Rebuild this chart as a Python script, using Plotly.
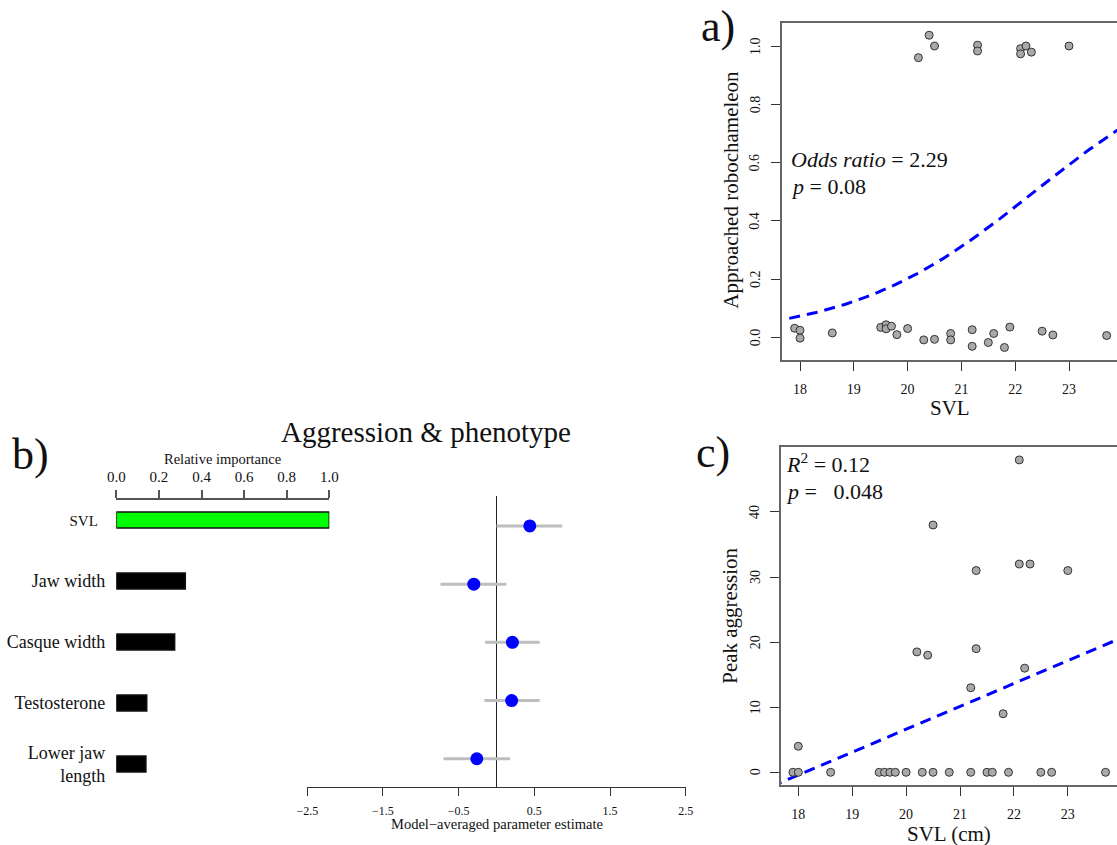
import numpy as np
import plotly.graph_objects as go

W, H = 1117, 845
FONT = "Liberation Serif"

# ---------------- Data ----------------
# Panel b: relative importance and model-averaged estimates
predictors = ["SVL", "Jaw width", "Casque width", "Testosterone", "Lower jaw length"]
predictor_labels = ['<span style="font-size:15px">SVL\u00a0\u00a0</span>', "Jaw width", "Casque width",
                    "Testosterone", "Lower jaw<br>length"]
rel_importance = [1.0, 0.324, 0.274, 0.143, 0.139]
bar_colors = ["#00FF00", "#000000", "#000000", "#000000", "#000000"]
estimate = [0.44, -0.30, 0.21, 0.20, -0.26]
ci_low = [0.0, -0.74, -0.15, -0.16, -0.70]
ci_high = [0.87, 0.13, 0.57, 0.57, 0.18]
positions = [5, 4, 3, 2, 1]
est_ticks = [-2.5, -1.5, -0.5, 0.5, 1.5, 2.5]
imp_ticks = [0.0, 0.2, 0.4, 0.6, 0.8, 1.0]

# Panel a: approached robochameleon (jittered 0/1) vs SVL
svl_a = [20.2, 20.4, 20.5, 21.3, 21.3, 22.1, 22.1, 22.2, 22.3, 23.0,
         17.9, 18.0, 18.0, 18.6, 19.5, 19.6, 19.6, 19.7, 19.8, 20.0, 20.3, 20.5,
         20.8, 20.8, 21.2, 21.2, 21.5, 21.6, 21.8, 21.9, 22.5, 22.7, 23.7]
approached = [0.960, 1.037, 1.000, 1.003, 0.983, 0.991, 0.973, 1.000, 0.979, 1.000,
              0.031, 0.024, -0.003, 0.015, 0.034, 0.043, 0.029, 0.038, 0.009, 0.030, -0.009, -0.007,
              0.013, -0.009, 0.026, -0.031, -0.018, 0.013, -0.035, 0.035, 0.021, 0.008, 0.006]
logit_intercept = -13.08
logit_slope = 0.585
a_yticks = [0.0, 0.2, 0.4, 0.6, 0.8, 1.0]
svl_ticks = [18, 19, 20, 21, 22, 23]

# Panel c: peak aggression vs SVL
svl_c = [22.1, 20.5, 22.1, 22.3, 21.3, 23.0, 20.2, 20.4, 21.3, 22.2, 21.2, 21.8, 18.0,
         17.9, 18.0, 18.6, 19.5, 19.6, 19.7, 19.8, 20.0, 20.3, 20.5, 20.8, 21.2,
         21.5, 21.6, 21.9, 22.5, 22.7, 23.7]
peak_aggr = [48, 38, 32, 32, 31, 31, 18.5, 18, 19, 16, 13, 9, 4,
             0, 0, 0, 0, 0, 0, 0, 0, 0, 0, 0, 0, 0, 0, 0, 0, 0, 0]
lm_intercept = -63.73
lm_slope = 3.517
c_yticks = [0, 10, 20, 30, 40]


def px(p):
    return p / W


def py(p):
    return 1 - p / H


fig = go.Figure()

# ---- Relative importance bars ----
fig.add_trace(go.Bar(
    x=rel_importance, y=positions, orientation="h", width=0.26,
    marker=dict(color=bar_colors, line=dict(color="#111111", width=1.5)),
    xaxis="x", yaxis="y", showlegend=False))

# ---- Forest plot ----
err_plus = [h - e for h, e in zip(ci_high, estimate)]
err_minus = [e - l for e, l in zip(estimate, ci_low)]
fig.add_trace(go.Scatter(
    x=estimate, y=positions, mode="markers",
    marker=dict(color="#0000FF", size=13),
    error_x=dict(type="data", array=err_plus, arrayminus=err_minus,
                 color="#BEBEBE", thickness=3, width=0),
    xaxis="x2", yaxis="y2", showlegend=False))

# ---- Panel a ----
xa = np.linspace(17.8, 24.0, 200)
ya = 1 / (1 + np.exp(-(logit_intercept + logit_slope * xa)))
fig.add_trace(go.Scatter(
    x=xa, y=ya, mode="lines",
    line=dict(color="#0000FF", width=3, dash="11px,7px"),
    xaxis="x3", yaxis="y3", showlegend=False))
fig.add_trace(go.Scatter(
    x=svl_a, y=approached, mode="markers",
    marker=dict(color="#A9A9A9", size=8, line=dict(color="#333333", width=1)),
    xaxis="x3", yaxis="y3", showlegend=False))

# ---- Panel c ----
xc = np.array([17.5, 24.0])
yc = lm_intercept + lm_slope * xc
fig.add_trace(go.Scatter(
    x=xc, y=yc, mode="lines",
    line=dict(color="#0000FF", width=3, dash="11px,7px"),
    xaxis="x4", yaxis="y4", showlegend=False))
fig.add_trace(go.Scatter(
    x=svl_c, y=peak_aggr, mode="markers",
    marker=dict(color="#A9A9A9", size=8, line=dict(color="#333333", width=1)),
    xaxis="x4", yaxis="y4", showlegend=False))

axis_font = dict(family=FONT, size=14, color="#111111")

fig.update_layout(
    width=W, height=H,
    margin=dict(l=0, r=0, t=0, b=0, autoexpand=False),
    paper_bgcolor="white", plot_bgcolor="rgba(0,0,0,0)",
    font=dict(family=FONT, color="#111111"),
    # relative importance
    xaxis=dict(domain=[px(116.3), px(329.3)], range=[0, 1], side="top", anchor="y",
               tickvals=imp_ticks, tickformat=".1f", showline=True, linecolor="#555555",
               linewidth=1.5, ticks="outside", ticklen=8, tickcolor="#555555", tickwidth=1.5,
               showgrid=False, zeroline=False, tickfont=dict(family=FONT, size=15),
               ticklabelstandoff=2, automargin=False),
    yaxis=dict(domain=[py(790), py(500)], range=[0.574, 5.328], anchor="x",
               tickvals=positions, ticktext=predictor_labels, showline=False,
               ticks="", showgrid=False, zeroline=False, automargin=False,
               tickfont=dict(family=FONT, size=18, color="#111111"), ticklabelstandoff=10),
    # forest
    xaxis2=dict(domain=[px(307.3), px(685.7)], range=[-2.5, 2.5], anchor="y2",
                tickvals=est_ticks, tickformat=".1f", showline=True, linecolor="#333333",
                linewidth=1.2, ticks="outside", ticklen=8, tickcolor="#333333",
                showgrid=False, zeroline=True, zerolinecolor="#222222", zerolinewidth=1.2,
                tickfont=dict(family=FONT, size=12), ticklabelstandoff=4, automargin=False),
    yaxis2=dict(domain=[py(787.3), py(496)], range=[0.509, 5.515], anchor="x2",
                showticklabels=False, ticks="", showline=False,
                showgrid=False, zeroline=False, automargin=False),
    # panel a
    xaxis3=dict(domain=[px(782), 1.0], range=[17.665, 23.892], anchor="y3",
                tickvals=svl_ticks, showline=True, mirror=True,
                linecolor="#666666", linewidth=1.5, ticks="outside", ticklen=9,
                tickcolor="#333333", showgrid=False, zeroline=False,
                tickfont=axis_font, ticklabelstandoff=6, automargin=False),
    yaxis3=dict(domain=[py(360), py(23)], range=[-0.078, 1.079], anchor="x3",
                tickvals=a_yticks, showticklabels=False,
                showline=True, linecolor="#666666", linewidth=1.5, ticks="outside",
                ticklen=9, tickcolor="#333333", showgrid=False, zeroline=False,
                automargin=False),
    # panel c
    xaxis4=dict(domain=[px(781), 1.0], range=[17.679, 23.913], anchor="y4",
                tickvals=svl_ticks, showline=True, mirror=True,
                linecolor="#666666", linewidth=1.5, ticks="outside", ticklen=9,
                tickcolor="#333333", showgrid=False, zeroline=False,
                tickfont=axis_font, ticklabelstandoff=6, automargin=False),
    yaxis4=dict(domain=[py(785), py(447.3)], range=[-1.95, 49.94], anchor="x4",
                tickvals=c_yticks, showticklabels=False,
                showline=True, linecolor="#666666", linewidth=1.5, ticks="outside",
                ticklen=9, tickcolor="#333333", showgrid=False, zeroline=False,
                automargin=False),
)


def ann(text, x, y, size, xanchor="center", yanchor="middle", angle=0):
    fig.add_annotation(text=text, x=px(x), y=py(y), xref="paper", yref="paper",
                       xanchor=xanchor, yanchor=yanchor, showarrow=False, textangle=angle,
                       font=dict(family=FONT, size=size, color="#111111"))


# rotated y tick labels (R style), placed on the axis scale
for v in a_yticks:
    fig.add_annotation(text=f"{v:.1f}", x=px(755), y=v, xref="paper", yref="y3",
                       showarrow=False, textangle=-90, xanchor="center", yanchor="middle",
                       font=axis_font)
for v in c_yticks:
    fig.add_annotation(text=f"{v}", x=px(755), y=v, xref="paper", yref="y4",
                       showarrow=False, textangle=-90, xanchor="center", yanchor="middle",
                       font=axis_font)

# panel labels and titles
ann("a)", 718, 26, 44)
ann("b)", 30, 454, 44)
ann("c)", 713, 452, 44)
ann("Aggression &amp; phenotype", 425.5, 432, 29)
ann("Relative importance", 222.7, 459, 14.5)
ann("Model\u2212averaged parameter estimate", 496.7, 824, 14.5)

# axis titles
ann("Approached robochameleon", 730.7, 190, 21, angle=-90)
ann("SVL", 950, 408, 21)
ann("Peak aggression", 729.3, 615.5, 21, angle=-90)
ann("SVL (cm)", 948.7, 834, 21)

# stats text
ann("<i>Odds ratio</i> = 2.29", 789, 160, 22, xanchor="left")
ann("<i>p</i> = 0.08", 789, 187, 22, xanchor="left")
ann("<i>R</i><sup>2</sup> = 0.12", 784, 463, 22, xanchor="left")
ann("<i>p</i> =\u00a0\u00a0\u00a00.048", 784, 491, 22, xanchor="left")

fig.write_html("out.html")
